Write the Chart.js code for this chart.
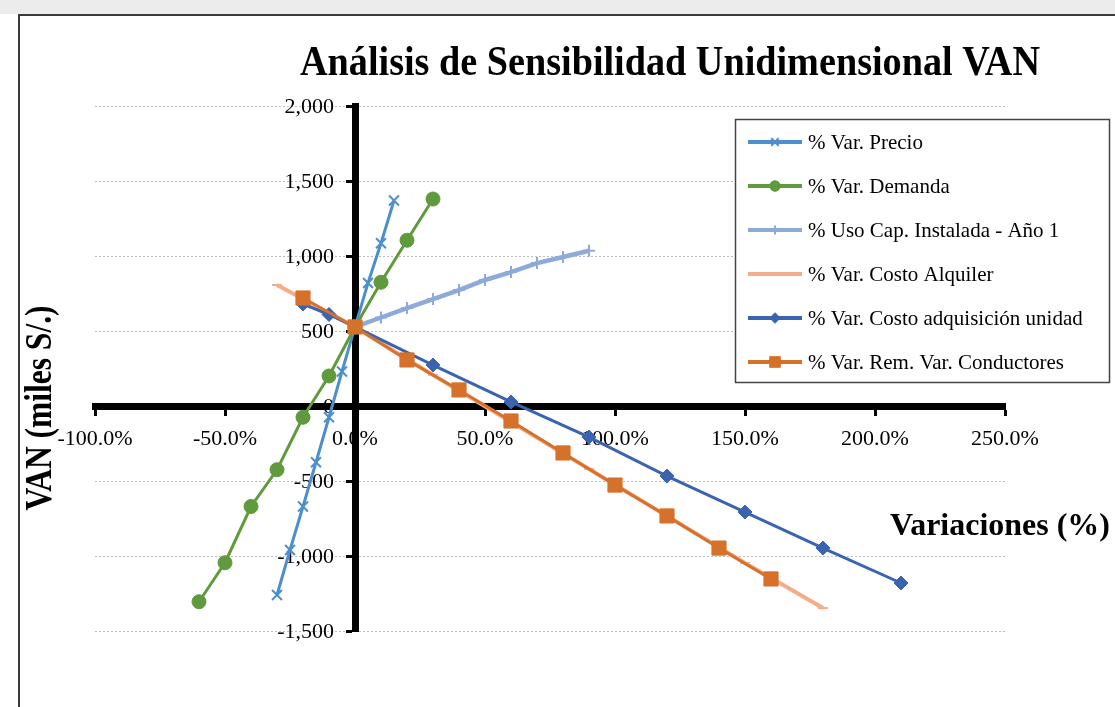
<!DOCTYPE html>
<html lang="es">
<head>
<meta charset="UTF-8">
<title>Análisis de Sensibilidad Unidimensional VAN</title>
<script src="https://cdn.jsdelivr.net/npm/chart.js"></script>
<style>
  body { margin: 0; background: #fff; }
  .page { position: relative; width: 1115px; height: 707px; overflow: hidden; background: #fff; }
  .strip { position: absolute; left: 0; top: 0; width: 1115px; height: 14px; background: #ececec; }
  .frame { position: absolute; left: 18px; top: 14px; width: 1200px; height: 800px; border-left: 2px solid #3a3a3a; border-top: 2px solid #3a3a3a; }
  canvas { position: absolute; left: 0; top: 0; }
</style>
</head>
<body>
<div class="page">
  <div class="strip"></div>
  <div class="frame"></div>
  <canvas id="chart" width="1115" height="707"></canvas>
</div>
<script>
// data (x = % variation, y = VAN in miles S/.)
const precioX = [-30, -25, -20, -15, -10, -5, 0, 5, 10, 15];
const precioY = [-1260, -960, -670, -375, -75, 230, 527, 820, 1085, 1370];

const demandaX = [-60, -50, -40, -30, -20, -10, 0, 10, 20, 30];
const demandaY = [-1305, -1045, -670, -425, -75, 200, 527, 825, 1105, 1380];

const usoCapX = [0, 10, 20, 30, 40, 50, 60, 70, 80, 90];
const usoCapY = [527, 590, 653, 713, 773, 840, 893, 953, 993, 1035];

const alquilerX = [-30, 0, 30, 60, 90, 120, 150, 180];
const alquilerY = [807, 527, 207, -107, -420, -733, -1047, -1347];

const adquisicionX = [-20, -10, 0, 30, 60, 90, 120, 150, 180, 210];
const adquisicionY = [680, 610, 527, 273, 27, -207, -467, -707, -947, -1180];

const conductoresX = [-20, 0, 20, 40, 60, 80, 100, 120, 140, 160];
const conductoresY = [720, 527, 307, 107, -100, -313, -527, -733, -947, -1153];

const seriesLabels = [
  '% Var. Precio',
  '% Var. Demanda',
  '% Uso Cap. Instalada - Año 1',
  '% Var. Costo Alquiler',
  '% Var. Costo adquisición unidad',
  '% Var. Rem. Var. Conductores'
];

const FONT = 'Liberation Serif';

function pts(xs, ys) {
  return xs.map((x, i) => ({ x: x, y: ys[i] }));
}

function serie(idx, xs, ys, color, style, radius, width) {
  return {
    label: seriesLabels[idx],
    data: pts(xs, ys),
    borderColor: color,
    backgroundColor: color,
    borderWidth: width,
    pointStyle: style,
    pointRadius: radius,
    pointHoverRadius: radius,
    pointBorderColor: color,
    pointBackgroundColor: color,
    pointBorderWidth: style === 'crossRot' || style === 'cross' || style === 'line' ? 2 : 1,
    tension: 0,
    fill: false,
    order: 6 - idx
  };
}

const datasets = [
  serie(0, precioX, precioY, '#4d8fcd', 'crossRot', 7, 3),
  serie(1, demandaX, demandaY, '#5f9a3d', 'circle', 7, 3),
  serie(2, usoCapX, usoCapY, '#8eaadb', 'cross', 6, 4.5),
  serie(3, alquilerX, alquilerY, '#f4ad8b', 'line', 5, 4),
  serie(4, adquisicionX, adquisicionY, '#3a64af', 'rectRot', 7, 3),
  serie(5, conductoresX, conductoresY, '#d6712b', 'rect', 10, 3)
];

function drawText(ctx, text, font, cx, cy, len, vertical) {
  ctx.save();
  ctx.translate(cx, cy);
  if (vertical) ctx.rotate(-Math.PI / 2);
  ctx.font = font;
  const w = ctx.measureText(text).width;
  ctx.scale(len / w, 1);
  ctx.textAlign = 'center';
  ctx.textBaseline = 'middle';
  ctx.fillStyle = '#000';
  ctx.fillText(text, 0, 0);
  ctx.restore();
}

const titlesPlugin = {
  id: 'titles',
  afterDraw(chart) {
    const ctx = chart.ctx;
    drawText(ctx, 'Análisis de Sensibilidad Unidimensional VAN', 'bold 42px ' + FONT, 670, 64, 740, false);
    drawText(ctx, 'VAN (miles S/.)', 'bold 38px ' + FONT, 41, 408, 205, true);
    drawText(ctx, 'Variaciones (%)', 'bold 32px ' + FONT, 1000, 527, 220, false);
  }
};

// y tick labels sit just left of the vertical axis at x = 0
const yLabelsPlugin = {
  id: 'yLabels',
  beforeDatasetsDraw(chart) {
    const ctx = chart.ctx;
    const ys = chart.scales.y;
    const x0 = chart.scales.x.getPixelForValue(0) - 21;
    ctx.save();
    ctx.font = '22px ' + FONT;
    ctx.fillStyle = '#000';
    ctx.textAlign = 'right';
    ctx.textBaseline = 'middle';
    ys.ticks.forEach(t => {
      ctx.fillText(t.label, x0, ys.getPixelForValue(t.value) + 1);
    });
    ctx.restore();
  }
};

const legendPlugin = {
  id: 'boxLegend',
  afterDraw(chart) {
    const ctx = chart.ctx;
    ctx.save();
    ctx.fillStyle = '#fff';
    ctx.fillRect(735, 119, 374, 263);
    ctx.strokeStyle = '#444';
    ctx.lineWidth = 1.5;
    ctx.strokeRect(735.5, 119.5, 374, 263);
    chart.data.datasets.forEach((ds, i) => {
      const y = 142 + i * 44;
      ctx.strokeStyle = ds.borderColor;
      ctx.lineWidth = 4;
      ctx.beginPath();
      ctx.moveTo(748, y);
      ctx.lineTo(802, y);
      ctx.stroke();
      ctx.fillStyle = ds.pointBackgroundColor;
      ctx.strokeStyle = ds.pointBorderColor;
      ctx.lineWidth = ds.pointBorderWidth;
      Chart.helpers.drawPoint(ctx, {
        pointStyle: ds.pointStyle,
        radius: ds.pointRadius * 0.75,
        rotation: 0,
        borderWidth: ds.pointBorderWidth
      }, 775, y);
      ctx.fillStyle = '#000';
      ctx.font = '21px ' + FONT;
      ctx.textAlign = 'left';
      ctx.textBaseline = 'middle';
      ctx.fillText(ds.label, 808, y + 1);
    });
    ctx.restore();
  }
};

new Chart(document.getElementById('chart'), {
  type: 'line',
  data: { datasets: datasets },
  options: {
    responsive: false,
    animation: false,
    layout: { padding: { left: 95, right: 110, top: 106, bottom: 76 } },
    plugins: {
      legend: { display: false },
      title: { display: false },
      tooltip: { enabled: false }
    },
    scales: {
      x: {
        type: 'linear',
        min: -100,
        max: 250,
        position: { y: 0 },
        ticks: {
          stepSize: 50,
          autoSkip: false,
          maxRotation: 0,
          padding: 14,
          color: '#000',
          font: { family: FONT, size: 22 },
          callback: v => v.toFixed(1) + '%'
        },
        grid: { drawOnChartArea: false, drawTicks: true, tickLength: 6, tickWidth: 3, tickColor: '#000' },
        border: { display: true, color: '#000', width: 7 }
      },
      y: {
        type: 'linear',
        min: -1500,
        max: 2000,
        position: { x: 0 },
        ticks: {
          stepSize: 500,
          color: 'rgba(0,0,0,0)',
          font: { family: FONT, size: 22 },
          callback: v => v.toLocaleString('en-US')
        },
        grid: { color: '#bdbdbd', lineWidth: 1, drawTicks: true, tickLength: 6, tickWidth: 3, tickColor: '#000' },
        border: { display: true, color: '#000', width: 7, dash: [2, 2] }
      }
    }
  },
  plugins: [titlesPlugin, yLabelsPlugin, legendPlugin]
});
</script>
</body>
</html>
